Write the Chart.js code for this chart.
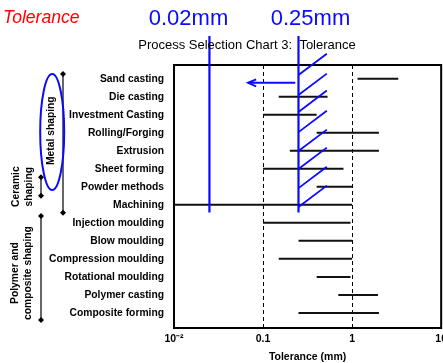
<!DOCTYPE html>
<html>
<head>
<meta charset="utf-8">
<script src="https://cdn.jsdelivr.net/npm/chart.js@4/dist/chart.umd.min.js"></script>
<style>
  html, body { margin: 0; padding: 0; background: #fff; overflow: hidden; }
  canvas { display: block; }
</style>
</head>
<body>
<canvas id="chart" width="452" height="363"></canvas>
<script>
// ── Data ─────────────────────────────────────────────────────
const processes = [
  'Sand casting', 'Die casting', 'Investment Casting', 'Rolling/Forging',
  'Extrusion', 'Sheet forming', 'Powder methods', 'Machining',
  'Injection moulding', 'Blow moulding', 'Compression moulding',
  'Rotational moulding', 'Polymer casting', 'Composite forming'
];
const tolLow  = [1.15, 0.15, 0.1, 0.4, 0.2, 0.1, 0.4, 0.01, 0.1, 0.25, 0.15, 0.4, 0.7, 0.25];
const tolHigh = [3.3, 0.53, 0.4, 2, 2, 0.8, 1, 1, 0.96, 1, 1, 0.96, 1.95, 2];
const xTicks = [0.01, 0.1, 1, 10];
const xTickLabels = ['10⁻²', '0.1', '1', '10'];

// groups on the left (row positions)
const groupLines = [['Metal shaping'], ['Ceramic', 'shaping'], ['Polymer and', 'composite shaping']];
const groupFrom = [-0.27, 5.47, 7.62];
const groupTo   = [7.44, 6.49, 13.4];

// blue hand annotations
const limitValues = [0.025, 0.25];
const limitLabels = ['0.02mm', '0.25mm'];
const limitTop = -2.38, limitBottom = 7.42;
const hatchRows = [-0.21, 0.9, 1.84, 2.96, 4.01, 5.01, 6.07, 7.12];
const hatchRise = 1.19, hatchEnd = 0.52;
const arrowFrom = 0.23, arrowTo = 0.068, arrowRow = 0.22;

const FONT = '"Liberation Sans", Arial, sans-serif';
const BLUE = '#0a0aff';

// ── Build segments ───────────────────────────────────────────
const bars = [];
processes.forEach((_, i) => {
  bars.push({ x: tolLow[i], y: i }, { x: tolHigh[i], y: i }, { x: tolHigh[i], y: null });
});
const limits = [];
limitValues.forEach(v => limits.push({ x: v, y: limitTop }, { x: v, y: limitBottom }, { x: v, y: null }));
const hatches = [];
hatchRows.forEach(r => hatches.push({ x: limitValues[1], y: r }, { x: hatchEnd, y: r - hatchRise }, { x: hatchEnd, y: null }));
const arrow = [{ x: arrowFrom, y: arrowRow }, { x: arrowTo, y: arrowRow }];

const seg = (data, color, width, clip) => ({
  data, borderColor: color, borderWidth: width, showLine: true, spanGaps: false,
  pointRadius: 0, clip: clip, borderCapStyle: 'butt'
});

// ── Plugins ──────────────────────────────────────────────────
const frame = {
  id: 'frame',
  beforeDatasetsDraw(chart) {
    const { ctx, chartArea: a } = chart;
    ctx.save();
    ctx.strokeStyle = '#000';
    ctx.lineWidth = 2;
    ctx.strokeRect(a.left, a.top, a.right - a.left, a.bottom - a.top);
    ctx.restore();
  }
};

function diamond(ctx, x, y) {
  ctx.beginPath();
  ctx.moveTo(x, y - 3); ctx.lineTo(x + 3, y); ctx.lineTo(x, y + 3); ctx.lineTo(x - 3, y);
  ctx.closePath(); ctx.fill();
}

const extras = {
  id: 'extras',
  afterDraw(chart) {
    const { ctx, scales: { x, y } } = chart;
    ctx.save();
    // arrow head
    const tx = x.getPixelForValue(arrowTo), ty = y.getPixelForValue(arrowRow);
    ctx.strokeStyle = BLUE; ctx.lineWidth = 2;
    ctx.beginPath();
    ctx.moveTo(tx + 8, ty - 3.5); ctx.lineTo(tx, ty); ctx.lineTo(tx + 8, ty + 3.5);
    ctx.stroke();

    // titles
    ctx.textBaseline = 'middle';
    ctx.textAlign = 'left';
    ctx.fillStyle = '#ff0000';
    ctx.font = 'italic 17.6px ' + FONT;
    ctx.fillText('Tolerance', 3, 18);
    ctx.fillStyle = BLUE;
    ctx.font = '22px ' + FONT;
    ctx.textAlign = 'center';
    ctx.fillText(limitLabels[0], 188.5, 19);
    ctx.fillText(limitLabels[1], 310.5, 19);
    ctx.fillStyle = '#000';
    ctx.font = '13px ' + FONT;
    ctx.fillText('Process Selection Chart 3:  Tolerance', 247, 45);

    // group brackets
    const bx = [63, 41, 41];
    ctx.strokeStyle = '#000'; ctx.fillStyle = '#000'; ctx.lineWidth = 1.2;
    groupFrom.forEach((f, g) => {
      const y0 = y.getPixelForValue(f), y1 = y.getPixelForValue(groupTo[g]);
      ctx.beginPath(); ctx.moveTo(bx[g], y0); ctx.lineTo(bx[g], y1); ctx.stroke();
      diamond(ctx, bx[g], y0); diamond(ctx, bx[g], y1);
    });

    // group labels (rotated)
    const lx = [[50.7], [16, 29.3], [15.5, 28.5]];
    const ly = [130.7, 186.7, 273];
    ctx.font = 'bold 10.3px ' + FONT;
    groupLines.forEach((lines, g) => {
      lines.forEach((t, k) => {
        ctx.save();
        ctx.translate(lx[g][k], ly[g]);
        ctx.rotate(-Math.PI / 2);
        ctx.fillText(t, 0, 0);
        ctx.restore();
      });
    });

    // blue ellipse
    ctx.strokeStyle = BLUE; ctx.lineWidth = 2;
    ctx.beginPath();
    ctx.ellipse(52.2, 132, 12, 58, 0, 0, Math.PI * 2);
    ctx.stroke();
    ctx.restore();
  }
};

// ── Chart ────────────────────────────────────────────────────
new Chart(document.getElementById('chart'), {
  type: 'scatter',
  data: {
    datasets: [
      seg(limits, BLUE, 2.2, false),
      seg(hatches, BLUE, 1.8, false),
      seg(arrow, BLUE, 2, false),
      seg(bars, '#111', 2, 0),
    ]
  },
  options: {
    responsive: false,
    animation: false,
    layout: { padding: { top: 65, left: 0, right: 0, bottom: 0 } },
    plugins: { legend: { display: false }, tooltip: { enabled: false } },
    scales: {
      x: {
        type: 'logarithmic', min: 0.01, max: 10,
        afterBuildTicks: s => { s.ticks = xTicks.map(v => ({ value: v })); },
        afterFit: s => { s.height = 35; },
        ticks: {
          color: '#000', padding: 5, maxRotation: 0, autoSkip: false,
          font: { family: FONT, size: 10.5, weight: 'bold' },
          callback: (v, i) => xTickLabels[i]
        },
        grid: {
          drawTicks: false, lineWidth: 1,
          color: c => (c.tick && (c.tick.value === 0.1 || c.tick.value === 1)) ? '#000' : 'transparent'
        },
        border: { display: false, dash: [4, 3] },
        title: {
          display: true, text: 'Tolerance (mm)', color: '#000',
          font: { family: FONT, size: 10.5, weight: 'bold' }, padding: { top: 0, bottom: 0 }
        }
      },
      y: {
        type: 'linear', reverse: true, min: -0.77, max: 13.84,
        afterBuildTicks: s => { s.ticks = processes.map((_, i) => ({ value: i })); },
        afterFit: s => { s.width = 174; },
        ticks: {
          color: '#000', padding: 10, autoSkip: false,
          font: { family: FONT, size: 10.3, weight: 'bold' },
          callback: v => processes[v]
        },
        grid: { display: false, drawTicks: false },
        border: { display: false }
      }
    }
  },
  plugins: [frame, extras]
});
</script>
</body>
</html>
